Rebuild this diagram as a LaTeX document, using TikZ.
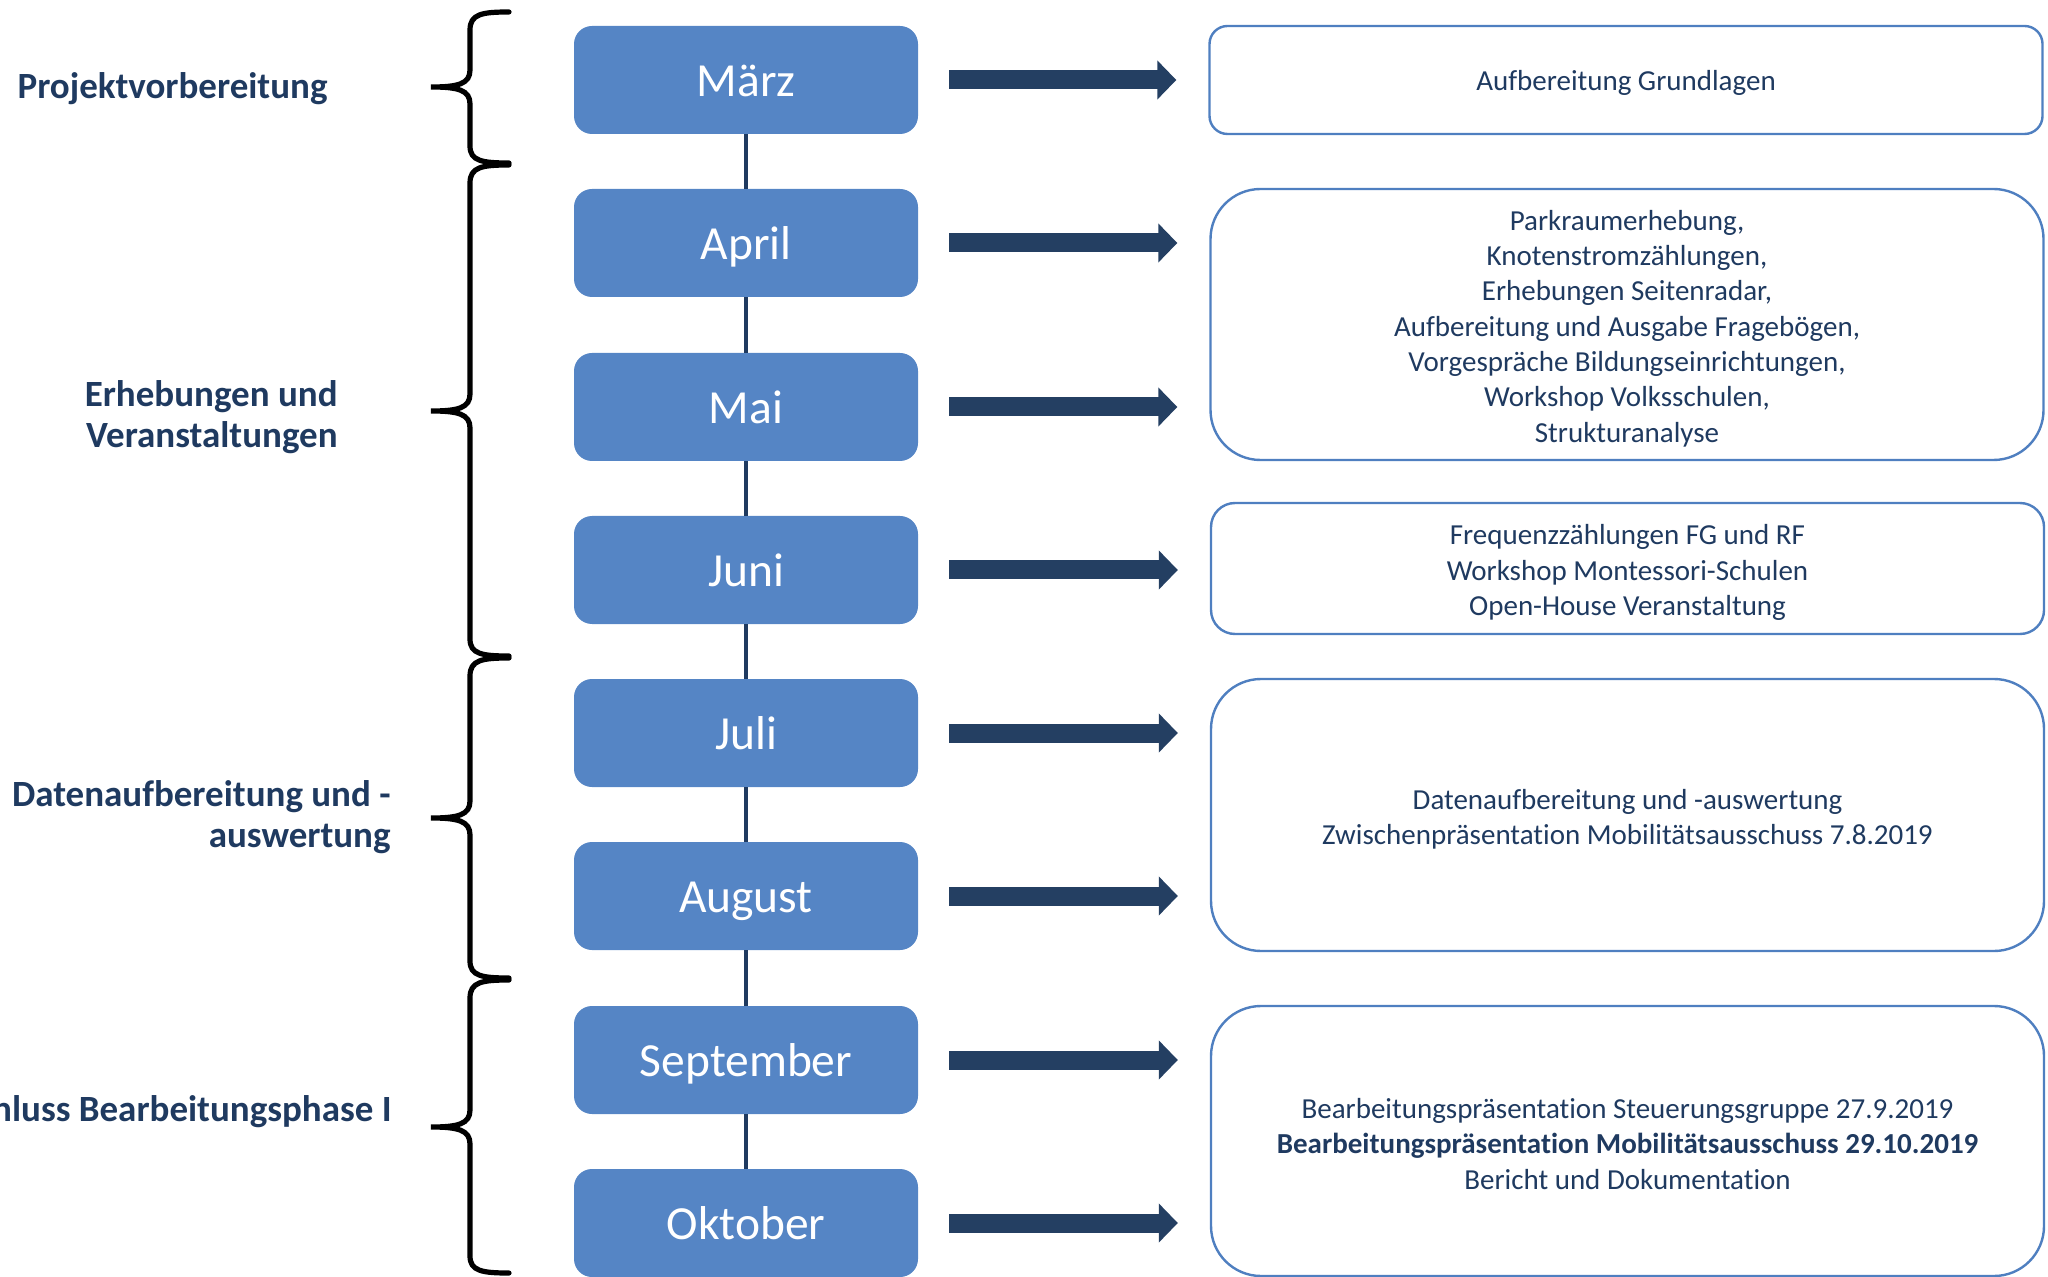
\documentclass[tikz,border=0pt]{standalone}
\usepackage{fontspec}
\setmainfont{Carlito}[Ligatures=NoCommon]
\usetikzlibrary{arrows.meta}
\definecolor{monthblue}{HTML}{5585C5}
\definecolor{navy}{HTML}{1F3A60}
\definecolor{arrownavy}{HTML}{243F62}
\definecolor{boxblue}{HTML}{4F7FC0}
\begin{document}
\begin{tikzpicture}[x=0.5pt,y=-0.5pt,
  month/.style={rectangle, rounded corners=9pt, fill=monthblue, text=white,
    minimum width=172pt, minimum height=54pt, inner sep=0pt,
    text height=18pt, text depth=1.5pt,
    font=\fontsize{23.75}{28}\selectfont},
  rbox/.style={rectangle, draw=boxblue, line width=1.2pt, fill=white,
    minimum width=416.5pt, inner sep=0pt},
  rtext/.style={text=navy, align=center, inner sep=0pt,
    font=\fontsize{14.5}{17.65}\selectfont},
  phase/.style={text=navy, align=right, anchor=east, inner sep=0pt,
    font=\fontsize{18.5}{20.25}\selectfont\bfseries},
  bigarrow/.style={draw=arrownavy, line width=9.5pt, line cap=butt,
    -{Triangle[length=9.5pt, width=19pt]}, shorten <=15.5pt, shorten >=16pt},
  timeline/.style={draw=navy, line width=2pt},
  bracepath/.style={draw=black, line width=2.6pt, line cap=round}]
\useasboundingbox (0,0) rectangle (2048,1277);
\begin{scope}
\clip (0,0) rectangle (2048,1277);
% month boxes
\node[month] (m1) at (746,80) {März};
\node[month] (m2) at (746,243) {April};
\node[month] (m3) at (746,407) {Mai};
\node[month] (m4) at (746,570) {Juni};
\node[month] (m5) at (746,733) {Juli};
\node[month] (m6) at (746,896) {August};
\node[month] (m7) at (746,1060) {September};
\node[month] (m8) at (746,1223) {Oktober};
% timeline
\draw[timeline] (m1.south) -- (m2.north);
\draw[timeline] (m2.south) -- (m3.north);
\draw[timeline] (m3.south) -- (m4.north);
\draw[timeline] (m4.south) -- (m5.north);
\draw[timeline] (m5.south) -- (m6.north);
\draw[timeline] (m6.south) -- (m7.north);
\draw[timeline] (m7.south) -- (m8.north);
% right boxes
\node[rbox, minimum height=54pt, rounded corners=9pt] (r1) at (1626,80) {};
\node[rbox, minimum height=135.5pt, rounded corners=25pt] (r2) at (1627,324.5) {};
\node[rbox, minimum height=65.5pt, rounded corners=12pt] (r3) at (1627.5,568.5) {};
\node[rbox, minimum height=136pt, rounded corners=25pt] (r4) at (1627.5,815) {};
\node[rbox, minimum height=135pt, rounded corners=25pt] (r5) at (1627.5,1141) {};
\node[rtext] (t1) at ([yshift=-1.5pt]r1.center) {Aufbereitung Grundlagen};
\node[rtext] (t2) at ([yshift=-2pt]r2.center)
  {Parkraumerhebung,\\Knotenstromzählungen,\\Erhebungen Seitenradar,\\Aufbereitung und Ausgabe Fragebögen,\\Vorgespräche Bildungseinrichtungen,\\Workshop Volksschulen,\\Strukturanalyse};
\node[rtext] (t3) at ([yshift=-2pt]r3.center)
  {Frequenzzählungen FG und RF\\Workshop Montessori-Schulen\\Open-House Veranstaltung};
\node[rtext] (t4) at ([yshift=-2pt]r4.center)
  {Datenaufbereitung und -auswertung\\Zwischenpräsentation Mobilitätsausschuss 7.8.2019};
\node[rtext] (t5) at ([yshift=-1.5pt]r5.center)
  {Bearbeitungspräsentation Steuerungsgruppe 27.9.2019\\\textbf{Bearbeitungspräsentation Mobilitätsausschuss 29.10.2019}\\Bericht und Dokumentation};
% arrows
\draw[bigarrow] (m1.east) -- (m1.east -| r1.west);
\draw[bigarrow] (m2.east) -- (m2.east -| r2.west);
\draw[bigarrow] (m3.east) -- (m3.east -| r2.west);
\draw[bigarrow] (m4.east) -- (m4.east -| r3.west);
\draw[bigarrow] (m5.east) -- (m5.east -| r4.west);
\draw[bigarrow] (m6.east) -- (m6.east -| r4.west);
\draw[bigarrow] (m7.east) -- (m7.east -| r5.west);
\draw[bigarrow] (m8.east) -- (m8.east -| r5.west);
% braces
\draw[bracepath] (509,12) .. controls (482,12) and (470,14) .. (470,30) -- (470,70)
  .. controls (470,84) and (458,87) .. (431,87)
  .. controls (458,87) and (470,90) .. (470,104) -- (470,146)
  .. controls (470,161) and (482,163) .. (509,163);
\draw[bracepath] (509,165) .. controls (482,165) and (470,167) .. (470,183) -- (470,394)
  .. controls (470,408) and (458,411) .. (431,411)
  .. controls (458,411) and (470,414) .. (470,428) -- (470,639)
  .. controls (470,654) and (482,656) .. (509,656);
\draw[bracepath] (509,658) .. controls (482,658) and (470,660) .. (470,676) -- (470,801)
  .. controls (470,815) and (458,818) .. (431,818)
  .. controls (458,818) and (470,821) .. (470,835) -- (470,961)
  .. controls (470,976) and (482,978) .. (509,978);
\draw[bracepath] (509,980) .. controls (482,980) and (470,982) .. (470,998) -- (470,1110)
  .. controls (470,1124) and (458,1127) .. (431,1127)
  .. controls (458,1127) and (470,1130) .. (470,1144) -- (470,1256)
  .. controls (470,1271) and (482,1273) .. (509,1273);
% phase labels
\node[phase] (p1) at (328,89) {Projektvorbereitung};
\node[phase] (p2) at (338,417) {Erhebungen und\\Veranstaltungen};
\node[phase] (p3) at (391,817) {Datenaufbereitung und -\\auswertung};
\node[phase] (p4) at (392,1112) {Abschluss Bearbeitungsphase I};
\end{scope}
\end{tikzpicture}
\end{document}
